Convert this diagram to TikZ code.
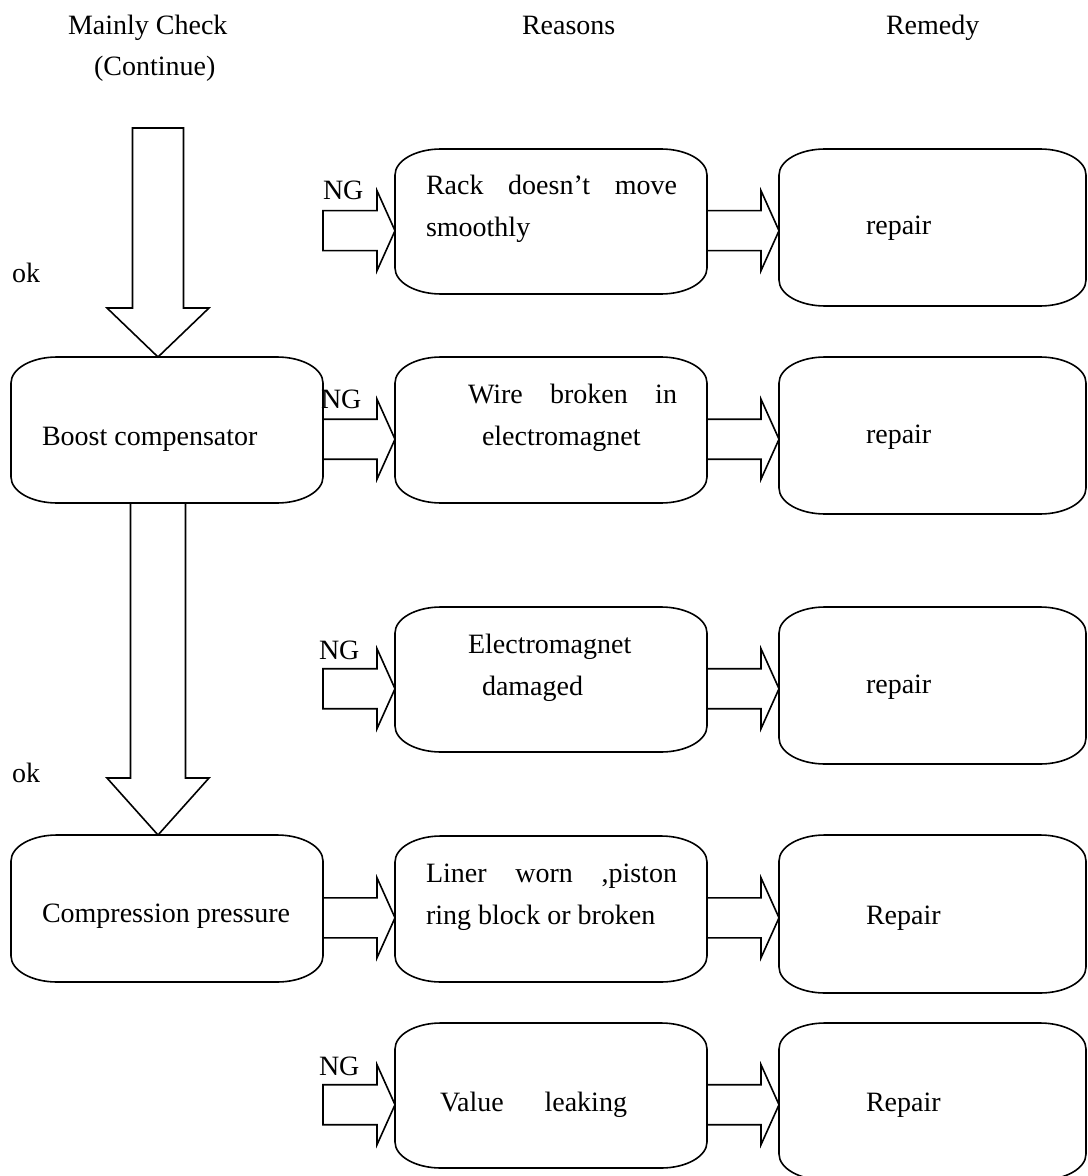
\documentclass[tikz,border=0pt]{standalone}
\usepackage{fontspec}
\setmainfont{Liberation Serif}
\usetikzlibrary{calc}
\tikzset{
  blk/.style={draw, line width=0.8pt, line join=miter},
  boxshape/.style={rectangle, draw=none, inner sep=0pt, outer sep=0pt},
  rbox/.style={draw, line width=0.8pt},
  txt/.style={inner sep=0pt, outer sep=0pt, anchor=base west, font=\fontsize{14}{21}\selectfont}
}
% rounded box outline with elliptical corners
\newcommand\rndbox[1]{\draw[rbox] ([xshift=23pt]#1.north west) -- ([xshift=-23pt]#1.north east)
  arc[start angle=90,end angle=0,x radius=23pt,y radius=13pt] -- ([yshift=13pt]#1.south east)
  arc[start angle=0,end angle=-90,x radius=23pt,y radius=13pt] -- ([xshift=23pt]#1.south west)
  arc[start angle=270,end angle=180,x radius=23pt,y radius=13pt] -- ([yshift=-13pt]#1.north west)
  arc[start angle=180,end angle=90,x radius=23pt,y radius=13pt] -- cycle;}
% horizontal block arrow: x of start from #1, x of tip from #2, y from #3
\newcommand\hblk[3]{\draw[blk] let \p1=(#1), \p2=(#2), \p3=(#3) in
  (\x1,\y3+10pt) -- (\x2-9pt,\y3+10pt) -- (\x2-9pt,\y3+20pt) -- (\x2,\y3)
  -- (\x2-9pt,\y3-20pt) -- (\x2-9pt,\y3-10pt) -- (\x1,\y3-10pt) -- cycle;}
% vertical block arrow: start #1, tip #2, shaft half #3, head half #4, head length #5
\newcommand\vblk[5]{\draw[blk] let \p1=(#1), \p2=(#2) in
  (\x2-#3,\y1) -- (\x2-#3,\y2+#5) -- (\x2-#4,\y2+#5) -- (\x2,\y2)
  -- (\x2+#4,\y2+#5) -- (\x2+#3,\y2+#5) -- (\x2+#3,\y1) -- cycle;}
\begin{document}
\begin{tikzpicture}[x=0.5pt,y=-0.5pt]
\useasboundingbox (0,0) rectangle (1087,1176);
\clip (0,0) rectangle (1087,1176);

% headers
\node[txt] (hmain) at (68,35) {Mainly Check};
\node[txt] (hcont) at (94,76) {(Continue)};
\node[txt] (hreas) at (522,35) {Reasons};
\node[txt] (hrem) at (886,35) {Remedy};

% left column boxes
\node[boxshape, minimum width=156pt, minimum height=73pt] (L1) at (167,430) {};
\node[boxshape, minimum width=156pt, minimum height=73.5pt] (L2) at (167,908.5) {};
% reasons boxes
\node[boxshape, minimum width=156pt, minimum height=72.5pt] (R1) at (551,221.5) {};
\node[boxshape, minimum width=156pt, minimum height=73pt] (R2) at (551,430) {};
\node[boxshape, minimum width=156pt, minimum height=72.5pt] (R3) at (551,679.5) {};
\node[boxshape, minimum width=156pt, minimum height=73pt] (R4) at (551,909) {};
\node[boxshape, minimum width=156pt, minimum height=72.5pt] (R5) at (551,1095.5) {};
% remedy boxes
\node[boxshape, minimum width=153.5pt, minimum height=78.5pt] (M1) at (932.5,227.5) {};
\node[boxshape, minimum width=153.5pt, minimum height=78.5pt] (M2) at (932.5,435.5) {};
\node[boxshape, minimum width=153.5pt, minimum height=78.5pt] (M3) at (932.5,685.5) {};
\node[boxshape, minimum width=153.5pt, minimum height=79pt] (M4) at (932.5,914) {};
\node[boxshape, minimum width=153.5pt, minimum height=78.5pt] (M5) at (932.5,1101.5) {};

\foreach \n in {L1,L2,R1,R2,R3,R4,R5,M1,M2,M3,M4,M5}{\rndbox{\n}}

% free ends
\coordinate (top) at (158,128);
\coordinate (ng1) at (323,231);
\coordinate (ng3) at (323,689);
\coordinate (ng5) at (323,1105);

% vertical arrows
\vblk{top}{[xshift=-4.5pt]L1.north}{12.75pt}{25.5pt}{24.5pt}
\vblk{L1.south}{[xshift=-4.5pt]L2.north}{13.75pt}{25.5pt}{28.5pt}

% NG arrows into reasons
\hblk{ng1}{R1.west}{[yshift=-4.6pt]R1.west}
\hblk{L1.east}{R2.west}{[yshift=-4.6pt]R2.west}
\hblk{ng3}{R3.west}{[yshift=-4.6pt]R3.west}
\hblk{L2.east}{R4.west}{[yshift=-4.4pt]R4.west}
\hblk{ng5}{R5.west}{[yshift=-4.6pt]R5.west}
% reasons to remedy
\hblk{R1.east}{M1.west}{[yshift=-4.6pt]R1.east}
\hblk{R2.east}{M2.west}{[yshift=-4.6pt]R2.east}
\hblk{R3.east}{M3.west}{[yshift=-4.6pt]R3.east}
\hblk{R4.east}{M4.west}{[yshift=-4.4pt]R4.east}
\hblk{R5.east}{M5.west}{[yshift=-4.6pt]R5.east}

% labels
\node[txt] (ok1) at (12,283) {ok};
\node[txt] (ok2) at (12,782) {ok};
\node[txt] (ngl1) at (323,200) {NG};
\node[txt] (ngl2) at (321,408) {NG};
\node[txt] (ngl3) at (319,659) {NG};
\node[txt] (ngl5) at (319,1075) {NG};

% texts
\node[txt] (tl1) at (42,445) {Boost compensator};
\node[txt] (tl2) at (42,922) {Compression pressure};
\node[txt] (tr1) at (426,195) {\begin{tabular}[t]{@{}l@{}}\makebox[125.5pt][s]{Rack\hfill doesn’t\hfill move}\\smoothly\end{tabular}};
\node[txt] (tr2) at (468,403) {\begin{tabular}[t]{@{}l@{}}\makebox[104.5pt][s]{Wire\hfill broken\hfill in}\\\hspace*{7pt}electromagnet\end{tabular}};
\node[txt] (tr3) at (468,653) {\begin{tabular}[t]{@{}l@{}}Electromagnet\\\hspace*{7pt}damaged\end{tabular}};
\node[txt] (tr4) at (426,882) {\begin{tabular}[t]{@{}l@{}}\makebox[125.5pt][s]{Liner\hfill worn\hfill ,piston}\\ring block or broken\end{tabular}};
\node[txt] (tr5) at (440,1111) {\makebox[93.5pt][s]{Value\hfill leaking}};
\node[txt] (tm1) at (866,235) {repair};
\node[txt] (tm2) at (866,443) {repair};
\node[txt] (tm3) at (866,693) {repair};
\node[txt] (tm4) at (866,924) {Repair};
\node[txt] (tm5) at (866,1111) {Repair};
\end{tikzpicture}
\end{document}
